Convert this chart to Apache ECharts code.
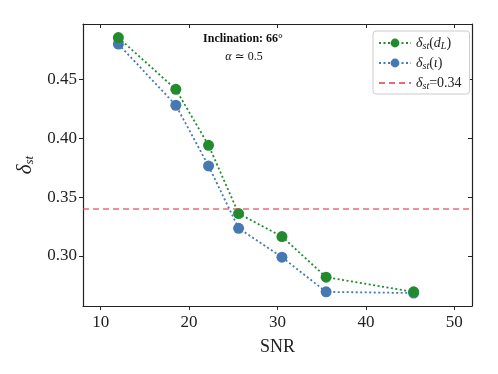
<!DOCTYPE html>
<html>
<head>
<meta charset="utf-8">
<script src="https://cdn.jsdelivr.net/npm/echarts@6/dist/echarts.min.js"></script>
<style>
  html, body { margin: 0; padding: 0; background: #fff; }
  #chart { width: 498px; height: 374px; }
</style>
</head>
<body>
<div id="chart"></div>
<script>
const snr = [12, 18.5, 22.2, 25.6, 30.5, 35.5, 45.4]
const deltaDL = [0.4855, 0.4415, 0.394, 0.336, 0.3165, 0.282, 0.2695]
const deltaIota = [0.480, 0.428, 0.3765, 0.3235, 0.299, 0.2695, 0.2685]
const threshold = 0.34
const xTicks = [10, 20, 30, 40, 50]
const yTicks = [0.30, 0.35, 0.40, 0.45]

const FONT = '"Liberation Serif", "DejaVu Serif", serif'
const RED = 'rgba(224,70,90,0.8)'

const chart = echarts.init(document.getElementById('chart'))

const axisBase = {
  axisLine: { show: true, onZero: false, lineStyle: { color: '#222', width: 1.2 } },
  splitLine: { show: false }
}

chart.setOption({
  animation: false,
  textStyle: { fontFamily: FONT },
  grid: { left: 83, right: 26, top: 24, bottom: 68 },
  xAxis: [
    {
      ...axisBase, type: 'value', min: 8, max: 52, interval: 2,
      axisTick: { inside: false, length: 4, customValues: xTicks, lineStyle: { color: '#222' } },
      axisLabel: { customValues: xTicks, color: '#222', fontSize: 17, fontFamily: FONT, margin: 8 },
      name: 'SNR', nameLocation: 'middle', nameGap: 32,
      nameTextStyle: { fontSize: 18, color: '#222', fontFamily: FONT }
    },
    {
      ...axisBase, type: 'value', position: 'top', min: 8, max: 52,
      axisTick: { inside: true, length: 4, customValues: xTicks, lineStyle: { color: '#222' } },
      axisLabel: { show: false }
    }
  ],
  yAxis: [
    {
      ...axisBase, type: 'value', min: 0.2575, max: 0.497,
      axisTick: { inside: false, length: 4, customValues: yTicks, lineStyle: { color: '#222' } },
      axisLabel: { customValues: yTicks, color: '#222', fontSize: 17, fontFamily: FONT, margin: 6,
        formatter: v => v.toFixed(2) },
      name: '{d|δ}{s|st}', nameLocation: 'middle', nameGap: 42, nameRotate: 90,
      nameTextStyle: {
        rich: {
          d: { fontSize: 21, fontStyle: 'italic', color: '#222', fontFamily: FONT },
          s: { fontSize: 13, fontStyle: 'italic', color: '#222', fontFamily: FONT, padding: [9, 0, 0, 0] }
        }
      }
    },
    {
      ...axisBase, type: 'value', position: 'right', min: 0.2575, max: 0.497,
      axisTick: { inside: true, length: 4, customValues: yTicks, lineStyle: { color: '#222' } },
      axisLabel: { show: false }
    }
  ],
  legend: {
    orient: 'vertical', left: 373, top: 31,
    itemWidth: 32, itemHeight: 11, itemGap: 5,
    backgroundColor: '#fff', borderColor: '#ccc', borderWidth: 1, borderRadius: 3,
    padding: [5, 8, 3, 5],
    data: ['dl', 'iota', { name: 'thr', itemStyle: { opacity: 0 } }],
    formatter: n => {
      if (n === 'dl') return '{d|δ}{s|st}{t|(}{i|d}{s|L}{t|)}'
      if (n === 'iota') return '{d|δ}{s|st}{t|(}{i|ι}{t|)}'
      return '{d|δ}{s|st}{t|=0.34}'
    },
    textStyle: {
      rich: {
        d: { fontSize: 14, fontStyle: 'italic', color: '#222', fontFamily: FONT },
        i: { fontSize: 14, fontStyle: 'italic', color: '#222', fontFamily: FONT },
        t: { fontSize: 14, color: '#222', fontFamily: FONT },
        s: { fontSize: 10, fontStyle: 'italic', color: '#222', fontFamily: FONT, padding: [6, 0, 0, 0] }
      }
    }
  },
  graphic: [
    {
      type: 'text', x: 243, y: 33,
      style: { text: 'Inclination: 66°', font: 'bold 12px ' + FONT, fill: '#111', align: 'center' }
    },
    {
      type: 'text', x: 244, y: 51,
      style: {
        text: '{a|α} ≃ 0.5', font: '12px ' + FONT, fill: '#111', align: 'center',
        rich: { a: { fontStyle: 'italic', fontSize: 12, fontFamily: FONT, fill: '#111' } }
      }
    }
  ],
  series: [
    {
      name: 'thr', type: 'line', data: [], symbol: 'none',
      itemStyle: { color: RED },
      lineStyle: { type: [6, 4], width: 1.5, color: RED },
      markLine: {
        silent: true, symbol: 'none', label: { show: false },
        lineStyle: { type: [6, 4], width: 1.5, color: RED },
        data: [{ yAxis: threshold }]
      }
    },
    {
      name: 'iota', type: 'line', symbol: 'circle', symbolSize: 11,
      data: snr.map((x, i) => [x, deltaIota[i]]),
      itemStyle: { color: '#4679b2' },
      lineStyle: { type: [2, 2.5], width: 1.8, color: '#4679b2' },
      z: 3
    },
    {
      name: 'dl', type: 'line', symbol: 'circle', symbolSize: 11,
      data: snr.map((x, i) => [x, deltaDL[i]]),
      itemStyle: { color: '#228b2e' },
      lineStyle: { type: [2, 2.5], width: 1.8, color: '#228b2e' },
      z: 4
    }
  ]
})
</script>
</body>
</html>
